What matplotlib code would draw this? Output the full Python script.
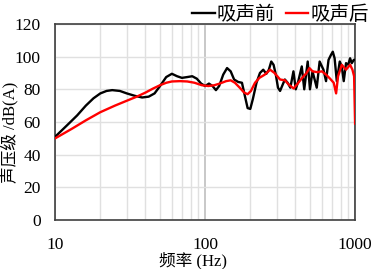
import matplotlib.pyplot as plt
from matplotlib.ticker import FixedLocator, NullFormatter

plt.rcParams['font.family'] = ['Liberation Serif', 'Noto Sans CJK SC']

# 吸声前 (before)
f_before = [10, 12, 14, 16, 18, 20, 22, 24, 27, 30, 34, 38, 42, 46, 50, 55, 60, 65, 70, 76,
            82, 88, 94, 100, 106, 112, 118, 124, 132, 140, 148, 156, 166, 176, 184, 192, 200,
            208, 220, 232, 244, 256, 266, 276, 286, 296, 306, 316, 326, 340, 355, 370, 388,
            402, 418, 441, 458, 483, 500, 520, 555, 580, 615, 640, 665, 690, 710, 730, 755,
            790, 815, 840, 870, 900, 926, 950, 980, 1000]
db_before = [51, 58, 64, 70, 74.5, 77.5, 79, 79.5, 79, 77.5, 76, 75, 75.5, 77.5, 82, 87.5, 89.5,
             88, 87, 87.5, 88, 86.5, 83.5, 82, 83.5, 82, 79.5, 82, 89, 93, 91, 86, 84.5, 84,
             76, 68.5, 68, 74, 84, 90, 92, 89.5, 92, 97, 95, 89, 81, 79, 82, 86, 84, 81, 91,
             80, 85, 94, 80, 97, 80, 91, 81, 97, 92, 85, 98, 101, 103, 99, 85, 97, 94, 85,
             96, 95, 99, 96, 98, 98]

# 吸声后 (after)
f_after = [10, 13, 16, 20, 25, 30, 35, 40, 45, 50, 55, 60, 68, 76, 85, 95, 105, 115, 125, 138,
           148, 158, 170, 182, 192, 202, 215, 230, 250, 271, 290, 316, 341, 360, 389, 410, 453,
           475, 496, 520, 560, 600, 640, 681, 720, 747, 770, 815, 870, 926, 960, 985, 1000]
db_after = [50, 56, 61, 66, 70, 73, 75.5, 78, 80.5, 82.5, 84, 84.8, 85, 84.8, 84, 82.5, 82,
            82.5, 83.5, 85, 85.5, 84, 81, 78, 77, 79, 84, 87, 89, 92, 90, 86, 85.5, 83, 80.5,
            83, 88, 90, 93, 91, 90.5, 91, 89, 86.5, 84, 77.5, 88, 95, 92, 95, 92, 88, 59]

fig, ax = plt.subplots(figsize=(3.73, 2.69), dpi=100)
fig.subplots_adjust(left=0.148, right=0.952, top=0.911, bottom=0.182)

ax.plot(f_before, db_before, color='black', lw=1.7, label='吸声前', zorder=3)
ax.plot(f_after, db_after, color='#ff0000', lw=1.7, label='吸声后', zorder=4)

ax.set_xscale('log')
ax.set_xlim(10, 1000)
ax.set_ylim(0, 120)
ax.set_yticks(range(0, 121, 20))
ax.xaxis.set_major_locator(FixedLocator([10, 100, 1000]))
ax.xaxis.set_major_formatter(plt.FuncFormatter(lambda v, p: '%d' % v))
ax.xaxis.set_minor_locator(FixedLocator([20, 30, 40, 50, 60, 70, 80, 90,
                                         200, 300, 400, 500, 600, 700, 800, 900]))
ax.xaxis.set_minor_formatter(NullFormatter())

ax.grid(True, which='minor', axis='x', color='#e0e0e0', lw=1)
ax.grid(True, which='major', axis='x', color='#bfbfbf', lw=1.2)
ax.grid(True, which='major', axis='y', color='#e0e0e0', lw=1)
ax.set_axisbelow(True)

for s in ax.spines.values():
    s.set_color('#404040')
    s.set_linewidth(1.2)
ax.tick_params(which='both', length=0, labelsize=12.5)
ax.tick_params(axis='y', pad=10.5)
ax.tick_params(axis='x', pad=12)

ax.set_ylabel('声压级 /dB(A)', fontsize=12)
ax.yaxis.set_label_coords(-0.123, 0.445)
ax.set_xlabel('频率 (Hz)', fontsize=12)
ax.xaxis.set_label_coords(0.46, -0.163)

ax.legend(loc='lower right', bbox_to_anchor=(1.045, 1.0), ncol=2, frameon=False,
          fontsize=14, handlelength=1.15, handletextpad=0.1, columnspacing=0.55,
          borderaxespad=0, borderpad=0)

fig.savefig('out.png', dpi=100)
